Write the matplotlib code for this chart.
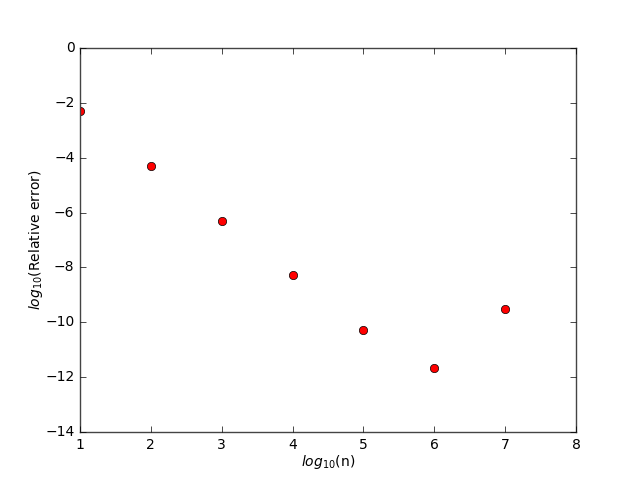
import matplotlib
matplotlib.use("Agg")
import matplotlib.pyplot as plt

plt.style.use("classic")
plt.rcParams["font.size"] = 10
plt.rcParams["xtick.labelsize"] = 10
plt.rcParams["ytick.labelsize"] = 10
plt.rcParams["axes.labelsize"] = 10
plt.rcParams["mathtext.fontset"] = "dejavusans"

log_n = [1, 2, 3, 4, 5, 6, 7]
log_err = [-2.30, -4.29, -6.29, -8.29, -10.29, -11.67, -9.53]

fig = plt.figure(figsize=(6.4, 4.8), dpi=100)
ax = fig.add_subplot(111)
ax.plot(log_n, log_err, "ro")
ax.set_xlim(1, 8)
ax.set_ylim(-14, 0)
ax.set_xlabel(r"$log_{10}$(n)", labelpad=1)
ax.set_ylabel(r"$log_{10}$(Relative error)", labelpad=0)
for s in ax.spines.values():
    s.set_edgecolor("#444444")
fig.savefig("out.png", dpi=100, facecolor="white")
